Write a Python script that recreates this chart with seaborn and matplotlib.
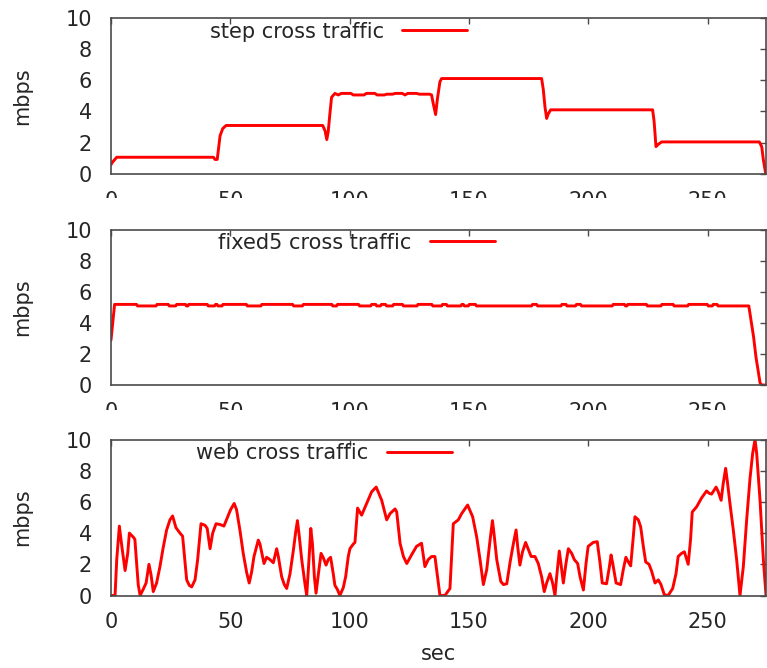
import matplotlib
matplotlib.use("Agg")
import matplotlib.pyplot as plt
from matplotlib.patches import Rectangle
import seaborn as sns

# ---- data: time (sec) and throughput (mbps) for each cross-traffic run ----
step_t = [0.0, 0.6, 2.4, 42.9, 43.6, 44.5, 45.7, 46.8, 48.2, 88.7, 89.7, 90.4,
          91.0, 91.7, 92.4, 93.8, 95.2, 96.5, 100.5, 101.5, 106.0, 107.0, 110.5,
          111.5, 114.5, 115.5, 118.0, 119.0, 122.0, 123.2, 124.3, 128.0, 129.2,
          133.5, 134.3, 135.0, 136.0, 136.7, 137.8, 138.5, 180.4, 181.1, 181.8,
          182.5, 183.2, 184.2, 226.9, 227.5, 227.9, 228.3, 229.3, 230.7, 271.6,
          272.6, 273.3, 274.3]
step_v = [0.6, 0.75, 1.07, 1.07, 0.93, 0.93, 2.45, 2.9, 3.1, 3.1, 2.75, 2.2,
          2.7, 3.85, 4.9, 5.15, 5.05, 5.15, 5.15, 5.05, 5.05, 5.15, 5.15,
          5.05, 5.05, 5.1, 5.1, 5.15, 5.15, 5.05, 5.15, 5.15, 5.1,
          5.1, 5.05, 4.5, 3.8, 4.75, 5.9, 6.1, 6.1, 5.4, 4.3,
          3.55, 3.85, 4.1, 4.1, 3.4, 2.6, 1.75, 1.9, 2.05, 2.05,
          1.75, 0.9, 0.0]

fixed5_t = [0.0, 1.5, 10.7, 11.1, 18.9, 19.3, 24.0, 24.4, 27.1, 27.5, 31.2, 31.6,
            32.2, 32.6, 40.3, 40.7, 43.4, 43.8, 44.4, 44.8, 46.5, 46.9, 56.7,
            57.1, 62.8, 63.2, 76.1, 76.5, 80.2, 80.6, 92.5, 92.9, 94.5, 94.9,
            103.7, 104.1, 108.8, 109.2, 110.9, 111.3, 112.9, 113.3, 115.0, 115.4,
            118.0, 118.4, 122.1, 122.5, 128.2, 128.6, 134.4, 134.8, 138.5, 138.9,
            140.5, 140.9, 146.6, 147.0, 147.6, 148.0, 149.7, 150.1, 152.7, 153.1,
            176.2, 176.6, 178.3, 178.7, 188.5, 188.9, 190.6, 191.0, 194.6, 195.0,
            196.7, 197.1, 210.0, 210.4, 215.1, 215.5, 216.1, 216.5, 224.3, 224.7,
            230.4, 230.8, 235.5, 235.9, 241.6, 242.0, 249.8, 250.2, 251.9, 252.3,
            253.9, 254.3, 267.2, 269.2, 270.2, 271.9, 272.5, 274.4]
fixed5_v = [2.9, 5.2, 5.2, 5.1, 5.1, 5.2, 5.2, 5.1, 5.1, 5.2, 5.2, 5.1,
            5.1, 5.2, 5.2, 5.1, 5.1, 5.2, 5.2, 5.1, 5.1, 5.2, 5.2,
            5.1, 5.1, 5.2, 5.2, 5.1, 5.1, 5.2, 5.2, 5.1, 5.1, 5.2,
            5.2, 5.1, 5.1, 5.2, 5.2, 5.1, 5.1, 5.2, 5.2, 5.1,
            5.1, 5.2, 5.2, 5.1, 5.1, 5.2, 5.2, 5.1, 5.1, 5.2,
            5.2, 5.1, 5.1, 5.2, 5.2, 5.1, 5.1, 5.2, 5.2, 5.1,
            5.1, 5.2, 5.2, 5.1, 5.1, 5.2, 5.2, 5.1, 5.1, 5.2,
            5.2, 5.1, 5.1, 5.2, 5.2, 5.1, 5.1, 5.2, 5.2, 5.1,
            5.1, 5.2, 5.2, 5.1, 5.1, 5.2, 5.2, 5.1, 5.1, 5.2,
            5.2, 5.1, 5.1, 3.1, 1.8, 0.15, 0.0, 0.0]

web_t = [0.0, 1.7, 2.4, 3.5, 4.5, 5.9, 7.0, 7.7, 9.3, 10.0, 11.4, 12.2, 13.5,
         14.7, 15.9, 16.8, 17.7, 19.1, 20.5, 21.9, 23.3, 24.7, 25.8, 27.2, 28.9,
         30.0, 31.7, 32.8, 33.8, 35.2, 36.3, 37.7, 39.4, 40.3, 41.5, 42.6, 44.0,
         45.7, 47.3, 48.5, 50.1, 51.6, 52.6, 54.0, 55.4, 56.8, 57.9, 58.9, 59.9,
         61.7, 62.4, 64.1, 65.2, 66.6, 68.0, 69.4, 70.1, 71.5, 72.6, 73.6, 75.0,
         76.4, 77.4, 78.1, 78.8, 79.9, 81.3, 82.0, 83.1, 83.7, 84.4, 85.2, 85.9,
         86.9, 88.0, 89.0, 90.1, 91.0, 92.0, 93.1, 93.8, 94.8, 95.9, 97.3, 98.3,
         99.4, 100.1, 101.5, 102.2, 103.3, 105.0, 107.1, 109.2, 111.1, 113.4,
         115.5, 116.9, 119.0, 119.7, 121.1, 122.5, 123.9, 125.9, 128.0, 130.1,
         131.5, 132.9, 134.3, 135.7, 137.1, 137.8, 139.9, 142.0, 143.4, 145.5,
         146.9, 149.4, 151.5, 153.2, 154.6, 156.0, 157.4, 158.8, 159.8, 160.5,
         161.6, 163.3, 164.4, 165.8, 167.2, 168.6, 169.7, 170.4, 171.3, 172.4,
         173.7, 175.1, 176.0, 177.6, 179.0, 180.4, 181.5, 182.5, 183.9, 185.0,
         186.0, 186.7, 187.8, 188.5, 189.5, 190.6, 191.6, 193.0, 194.1, 195.5,
         196.5, 197.9, 199.0, 199.9, 202.0, 203.7, 204.9, 205.8, 207.6, 208.8,
         209.5, 210.2, 211.6, 213.5, 214.6, 215.7, 216.7, 217.7, 218.8, 219.5,
         220.9, 221.9, 223.0, 224.0, 225.4, 226.5, 227.9, 229.3, 230.4, 231.8,
         233.4, 235.3, 236.7, 237.6, 239.0, 240.2, 241.8, 242.8, 243.5, 245.4,
         247.4, 249.5, 250.6, 251.6, 253.5, 254.4, 255.6, 256.5, 257.5, 258.3,
         259.3, 260.7, 262.1, 263.5, 264.9, 266.3, 267.7, 268.8, 269.8, 270.5,
         271.9, 273.3, 274.4]
web_v = [0.0, 0.0, 2.3, 4.45, 3.2, 1.6, 2.7, 4.0, 3.75, 3.6, 0.7, 0.0, 0.4,
         0.8, 2.0, 1.3, 0.25, 0.8, 1.85, 3.1, 4.2, 4.85, 5.1, 4.35, 4.0,
         3.8, 1.0, 0.65, 0.55, 1.0, 2.3, 4.6, 4.5, 4.3, 3.0, 4.0, 4.6,
         4.55, 4.45, 4.9, 5.5, 5.9, 5.5, 4.2, 2.7, 1.5, 0.8, 1.5, 2.5,
         3.55, 3.3, 2.05, 2.45, 2.3, 2.1, 3.0, 2.5, 1.2, 0.7, 0.45, 1.4,
         2.9, 4.1, 4.8, 3.9, 2.3, 0.7, 0.0, 2.7, 4.3, 3.3, 1.2, 0.15,
         1.4, 2.7, 2.4, 1.95, 2.3, 2.45, 1.4, 0.65, 0.4, 0.0, 0.5, 1.2,
         2.5, 3.0, 3.3, 3.4, 5.6, 5.15, 5.9, 6.65, 6.95, 6.1,
         4.85, 5.25, 5.55, 5.35, 3.35, 2.5, 2.05, 2.6, 3.15, 3.35,
         1.85, 2.3, 2.5, 2.5, 0.8, 0.0, 0.0, 0.45, 4.6, 4.85,
         5.25, 5.8, 5.05, 3.75, 2.3, 0.7, 1.65, 3.55, 4.8, 3.9,
         2.3, 0.9, 0.7, 0.75, 2.15, 3.35, 4.2, 3.1, 1.95, 2.8,
         3.4, 2.85, 2.5, 2.5, 2.05, 1.2, 0.25, 0.8, 1.4, 0.8,
         0.0, 1.2, 2.85, 2.05, 0.8, 2.05, 3.0, 2.7, 2.3, 2.05,
         1.2, 0.35, 2.05, 3.15, 3.4, 3.45, 2.05, 0.8, 0.75, 1.85,
         2.6, 2.05, 0.8, 0.7, 1.65, 2.45, 2.15, 1.9, 3.75, 5.05,
         4.85, 4.4, 3.15, 2.15, 2.0, 1.55, 0.8, 1.0, 0.7, 0.05,
         0.0, 0.45, 1.4, 2.5, 2.7, 2.8, 2.0, 3.6, 5.35, 5.7,
         6.25, 6.7, 6.55, 6.5, 6.95, 6.65, 6.1, 7.2, 8.15, 7.2,
         5.9, 4.2, 2.3, 0.0, 1.85, 4.85, 7.5, 9.1, 10.0, 9.1,
         6.1, 2.3, 0.0]

series_labels = ["step cross traffic", "fixed5 cross traffic", "web cross traffic"]
x_ticks = [0, 50, 100, 150, 200, 250]
y_ticks = [0, 2, 4, 6, 8, 10]

# ---- styling ----
sns.set_style("white")
plt.rcParams["font.family"] = ["DejaVu Sans"]
FS = 15
INK = "#262626"
FRAME = "#4a4a4a"

W, H = 767, 668
fig = plt.figure(figsize=(W / 100, H / 100), dpi=100)
fig.patch.set_facecolor("white")

# panel boxes in pixels: (top, bottom)
left_px, right_px = 111, 766
boxes = [(17.5, 174.0), (230.0, 385.0), (439.5, 595.5)]
legend_anchor = [(467, 31.7), (495, 242.7), (452, 453.0)]
data = [(step_t, step_v), (fixed5_t, fixed5_v), (web_t, web_v)]

axes = []
for i, ((top, bot), (lx, ly), (t, v), lab) in enumerate(
        zip(boxes, legend_anchor, data, series_labels)):
    ax = fig.add_axes([left_px / W, 1 - bot / H,
                       (right_px - left_px) / W, (bot - top) / H])
    sns.lineplot(x=t, y=v, ax=ax, color="#ff0000", linewidth=2.1,
                 estimator=None, sort=False, label=lab)
    ax.set_xlim(0, 274.4)
    ax.set_ylim(0, 10)
    ax.set_xticks(x_ticks)
    ax.set_yticks(y_ticks)
    ax.tick_params(axis="both", which="both", direction="in", length=4.5,
                   width=1.0, color=FRAME, labelcolor=INK, labelsize=FS,
                   top=True, right=True)
    ax.tick_params(axis="x", pad=12)
    ax.tick_params(axis="y", pad=13.5)
    for sp in ax.spines.values():
        sp.set_visible(True)
        sp.set_color(FRAME)
        sp.set_linewidth(1.2)
    ax.set_ylabel("mbps", fontsize=FS, color=INK)
    ax.yaxis.set_label_coords(-0.12, 0.5)
    ax.set_xlabel("")
    h = bot - top
    leg = ax.legend(loc="center right",
                    bbox_to_anchor=((lx - left_px) / (right_px - left_px),
                                    1 - (ly - top) / h),
                    markerfirst=False, frameon=False, fontsize=FS,
                    handlelength=3.1, handletextpad=0.9,
                    borderpad=0, borderaxespad=0)
    for txt in leg.get_texts():
        txt.set_color(INK)
    axes.append(ax)

axes[-1].set_xlabel("sec", fontsize=FS, color=INK)
axes[-1].xaxis.set_label_coords(0.5, -0.31)

# the tick labels of the upper panels are cut off where the next panel begins
for y0, y1 in [(198, 216), (410, 428)]:
    fig.add_artist(Rectangle((0, 1 - y1 / H), 1, (y1 - y0) / H,
                             transform=fig.transFigure, facecolor="white",
                             edgecolor="none", zorder=10))

fig.savefig("out.png", dpi=100, facecolor="white")
